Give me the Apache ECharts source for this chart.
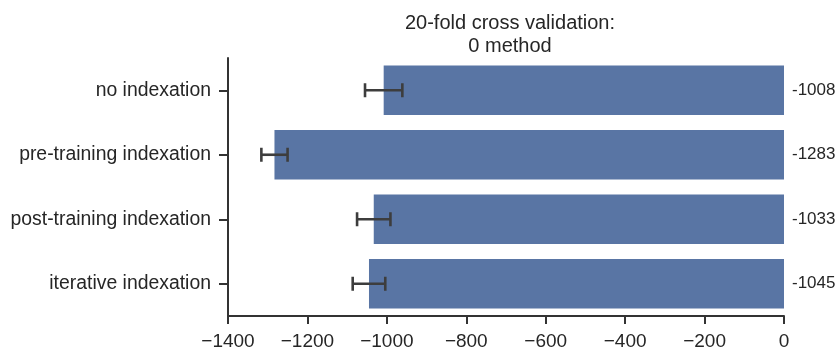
<!DOCTYPE html>
<html>
<head>
<meta charset="utf-8">
<script src="https://cdn.jsdelivr.net/npm/echarts@6/dist/echarts.min.js"></script>
<style>
  html, body { margin: 0; padding: 0; background: #fff; }
  #chart { width: 838px; height: 347px; }
</style>
</head>
<body>
<div id="chart"></div>
<script>
// Categories, top to bottom
const categories = ['no indexation', 'pre-training indexation', 'post-training indexation', 'iterative indexation'];
// Mean score per method
const means = [-1008, -1283, -1033, -1045];
// Half-width of the error bar per method
const errors = [47, 33, 42, 41];
// X axis ticks
const xTicks = [-1400, -1200, -1000, -800, -600, -400, -200, 0];

const FONT = '"Liberation Sans", Arial, Helvetica, sans-serif';
const TEXT = '#262626';
const AXIS = '#333333';

const chart = echarts.init(document.getElementById('chart'), null, { renderer: 'canvas' });

const errData = categories.map((c, i) => [i, means[i] - errors[i], means[i] + errors[i]]);

chart.setOption({
  animation: false,
  backgroundColor: '#ffffff',
  title: {
    text: '20-fold cross validation:\n0 method',
    left: 505,
    top: 7,
    textAlign: 'center',
    textStyle: { fontFamily: FONT, fontSize: 20, fontWeight: 'normal', color: TEXT, lineHeight: 23, align: 'center' }
  },
  grid: { left: 228, right: 54, top: 58, bottom: 31, containLabel: false, outerBoundsMode: 'none' },
  xAxis: {
    type: 'value',
    min: xTicks[0],
    max: xTicks[xTicks.length - 1],
    interval: 200,
    axisLine: { show: true, onZero: false, lineStyle: { color: AXIS, width: 2 } },
    axisTick: { show: true, length: 8, lineStyle: { color: AXIS, width: 2 } },
    axisLabel: {
      fontFamily: FONT, fontSize: 19, color: TEXT, margin: 16,
      formatter: v => String(v).replace('-', '\u2212')
    },
    splitLine: { show: false }
  },
  yAxis: {
    type: 'category',
    data: categories,
    inverse: true,
    position: 'left',
    axisLine: { show: true, onZero: false, lineStyle: { color: AXIS, width: 2 } },
    axisTick: { show: true, length: 9, alignWithLabel: true, lineStyle: { color: AXIS, width: 2 } },
    axisLabel: { fontFamily: FONT, fontSize: 19.4, color: TEXT, margin: 17 }
  },
  series: [
    {
      type: 'bar',
      data: means,
      barWidth: '77%',
      itemStyle: { color: '#5975a4' },
      label: {
        show: true,
        position: 'right',
        distance: 8,
        fontFamily: FONT,
        fontSize: 17,
        color: TEXT,
        formatter: p => String(p.value)
      },
      z: 2
    },
    {
      type: 'custom',
      data: errData,
      encode: { y: 0, x: [1, 2] },
      z: 5,
      renderItem: function (params, api) {
        const cat = api.value(0);
        const lo = api.coord([api.value(1), cat]);
        const hi = api.coord([api.value(2), cat]);
        const cap = 7;
        const style = { stroke: '#3d3d3d', lineWidth: 2.6, fill: null };
        return {
          type: 'group',
          children: [
            { type: 'line', shape: { x1: lo[0], y1: lo[1], x2: hi[0], y2: hi[1] }, style },
            { type: 'line', shape: { x1: lo[0], y1: lo[1] - cap, x2: lo[0], y2: lo[1] + cap }, style },
            { type: 'line', shape: { x1: hi[0], y1: hi[1] - cap, x2: hi[0], y2: hi[1] + cap }, style }
          ]
        };
      }
    }
  ]
});
</script>
</body>
</html>
